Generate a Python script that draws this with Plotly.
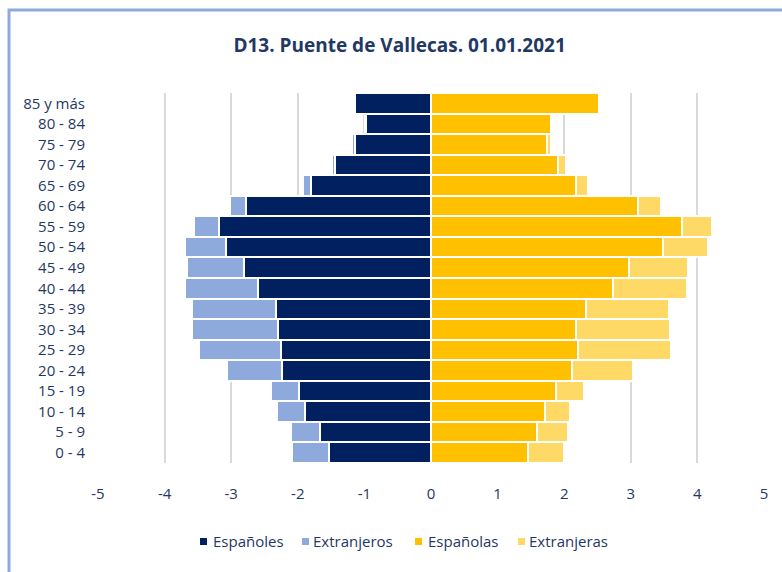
import plotly.graph_objects as go

categories = ["0 - 4", "5 - 9", "10 - 14", "15 - 19", "20 - 24", "25 - 29", "30 - 34",
              "35 - 39", "40 - 44", "45 - 49", "50 - 54", "55 - 59", "60 - 64",
              "65 - 69", "70 - 74", "75 - 79", "80 - 84", "85 y más"]

espanoles = [1.53, 1.66, 1.89, 1.98, 2.23, 2.25, 2.30, 2.33, 2.60, 2.81, 3.08, 3.19, 2.78,
             1.80, 1.44, 1.14, 0.98, 1.14]
extranjeros = [0.55, 0.44, 0.42, 0.42, 0.83, 1.23, 1.29, 1.26, 1.10, 0.86, 0.62, 0.365, 0.235,
               0.125, 0.045, 0.04, 0.01, 0.02]
espanolas = [1.46, 1.59, 1.71, 1.88, 2.12, 2.21, 2.18, 2.33, 2.73, 2.97, 3.48, 3.77, 3.11,
             2.18, 1.91, 1.74, 1.80, 2.52]
extranjeras = [0.54, 0.47, 0.38, 0.42, 0.92, 1.39, 1.41, 1.25, 1.11, 0.89, 0.68, 0.45, 0.34,
               0.18, 0.11, 0.06, 0.02, 0.01]

tick_vals = [-5, -4, -3, -2, -1, 0, 1, 2, 3, 4, 5]
tick_text = ["-5", "-4", "-3", "-2", "-1", "0", "1", "2", "3", "4", "5"]

series_names = ["Españoles", "Extranjeros", "Españolas", "Extranjeras"]

title_text = "D13. Puente de Vallecas. 01.01.2021"

NAVY = "#002060"
LBLUE = "#8EA9DB"
YELLOW = "#FFC000"
LYELLOW = "#FFD966"
TXT = "#1F3864"
FONT = "Open Sans, sans-serif"

W, H = 782, 572
ML, MR, MT, MB = 98, 18, 93, 109
pw = W - ML - MR
ph = H - MT - MB


def px(x):
    return (x - ML) / pw


def py(y):
    return (H - MB - y) / ph


fig = go.Figure()
series = [
    (series_names[0], [-v for v in espanoles], NAVY),
    (series_names[1], [-v for v in extranjeros], LBLUE),
    (series_names[2], espanolas, YELLOW),
    (series_names[3], extranjeras, LYELLOW),
]
for name, vals, col in series:
    fig.add_trace(go.Bar(
        y=categories, x=vals, name=name, orientation="h", showlegend=False,
        marker=dict(color=col, line=dict(color="white", width=2)),
    ))

shapes = [dict(type="rect", xref="paper", yref="paper",
               x0=px(9), x1=px(W + 20), y0=py(H + 20), y1=py(10),
               line=dict(color=LBLUE, width=3), layer="below")]
annotations = []
legend_marker_x = [200, 302, 415, 518]
legend_text_x = [211, 311, 426, 527]
legend_y = 541
for (name, _, col), mx, tx in zip(series, legend_marker_x, legend_text_x):
    shapes.append(dict(type="rect", xref="paper", yref="paper",
                       x0=px(mx), x1=px(mx + 7), y0=py(legend_y + 4), y1=py(legend_y - 3),
                       fillcolor=col, line=dict(width=0)))
    annotations.append(dict(text=name, xref="paper", yref="paper", x=px(tx), y=py(legend_y),
                            xanchor="left", yanchor="middle", showarrow=False,
                            font=dict(size=15, color=TXT, family=FONT)))

fig.update_layout(
    width=W, height=H,
    margin=dict(l=ML, r=MR, t=MT, b=MB),
    paper_bgcolor="white", plot_bgcolor="white",
    barmode="relative", bargap=0,
    font=dict(family=FONT, color=TXT, size=14),
    title=dict(text="<b>" + title_text + "</b>", x=0.511, xanchor="center",
               y=1 - 45 / H, yanchor="middle", yref="container",
               font=dict(size=19, color=TXT, family=FONT)),
    xaxis=dict(range=[-5, 5], tickvals=tick_vals, ticktext=tick_text,
               showgrid=True, gridcolor="#D9D9D9", gridwidth=1.5,
               zeroline=True, zerolinecolor="#D9D9D9", zerolinewidth=1.5,
               showline=False, ticks="", ticklabelstandoff=20,
               tickfont=dict(size=15, color=TXT), fixedrange=True),
    yaxis=dict(categoryorder="array", categoryarray=categories,
               showgrid=False, zeroline=False, showline=False, ticks="",
               ticklabelstandoff=12, tickfont=dict(size=15, color=TXT)),
    shapes=shapes,
    annotations=annotations,
    showlegend=False,
)

fig.write_html("out.html", config={"displayModeBar": False},
               post_script="document.body.style.margin='0';")
